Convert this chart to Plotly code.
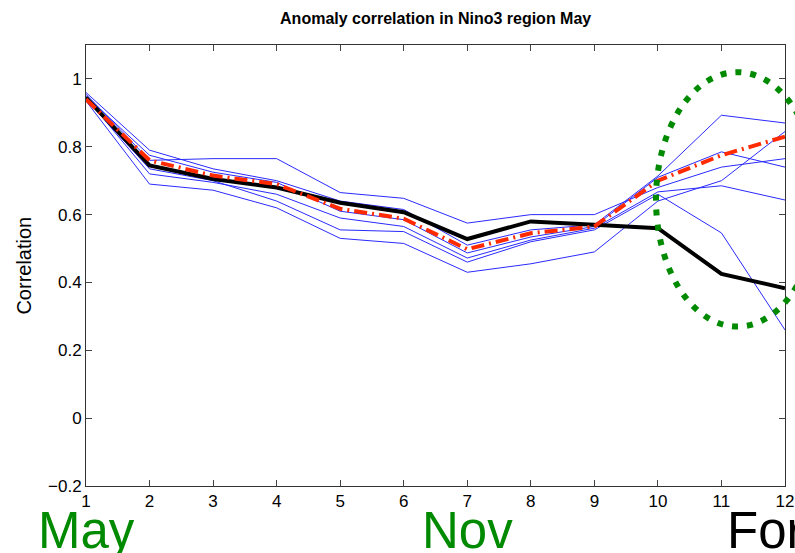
import plotly.graph_objects as go

# ── Data ──────────────────────────────────────────────────────────────────────
lead = list(range(1, 13))

observed = [0.945, 0.745, 0.705, 0.68, 0.635, 0.607, 0.528, 0.58, 0.57, 0.56, 0.425, 0.383]
ens_mean = [0.94, 0.76, 0.715, 0.69, 0.617, 0.588, 0.498, 0.545, 0.565, 0.70, 0.775, 0.83]

member_1 = [0.955, 0.76, 0.765, 0.765, 0.665, 0.648, 0.575, 0.60, 0.60, 0.68, 0.74, 0.765]
member_2 = [0.96, 0.79, 0.735, 0.70, 0.64, 0.615, 0.51, 0.555, 0.57, 0.714, 0.893, 0.87]
member_3 = [0.95, 0.775, 0.725, 0.695, 0.61, 0.585, 0.487, 0.534, 0.565, 0.71, 0.785, 0.74]
member_4 = [0.945, 0.72, 0.695, 0.66, 0.59, 0.565, 0.472, 0.525, 0.56, 0.667, 0.685, 0.643]
member_5 = [0.94, 0.735, 0.70, 0.64, 0.555, 0.55, 0.46, 0.52, 0.555, 0.66, 0.546, 0.26]
member_6 = [0.935, 0.69, 0.672, 0.62, 0.53, 0.515, 0.43, 0.455, 0.49, 0.64, 0.70, 0.845]
members = [member_1, member_2, member_3, member_4, member_5, member_6]

y_ticks = [-0.2, 0, 0.2, 0.4, 0.6, 0.8, 1]
y_labels = ["\u22120.2", "0", "0.2", "0.4", "0.6", "0.8", "1"]

# highlighted region (data units): centre and radii of the dotted ellipse
ellipse_centre = (11.25, 0.645)
ellipse_radii = (1.28, 0.375)

X_RANGE = [1, 12]
Y_RANGE = [-0.2, 1.1]
FONT = "Liberation Sans, Arial, Helvetica, sans-serif"
GREEN = "#008a00"

fig = go.Figure()

for m in members:
    fig.add_trace(go.Scatter(
        x=lead, y=m, mode="lines",
        line=dict(color="#2a2aff", width=1),
        showlegend=False, hoverinfo="skip",
    ))

fig.add_trace(go.Scatter(
    x=lead, y=observed, mode="lines",
    line=dict(color="black", width=4),
    showlegend=False,
))
fig.add_trace(go.Scatter(
    x=lead, y=ens_mean, mode="lines",
    line=dict(color="#ff2a00", width=4, dash="13px,5px,2px,5px"),
    showlegend=False,
))


# ellipse in paper coords so it can spill past the axes like the original
def _px(v):
    return (v - X_RANGE[0]) / (X_RANGE[1] - X_RANGE[0])


def _py(v):
    return (v - Y_RANGE[0]) / (Y_RANGE[1] - Y_RANGE[0])


cx, cy = ellipse_centre
rx, ry = ellipse_radii
fig.add_shape(
    type="circle", xref="paper", yref="paper",
    x0=_px(cx - rx), x1=_px(cx + rx), y0=_py(cy - ry), y1=_py(cy + ry),
    line=dict(color=GREEN, width=6, dash="6px,9px"),
)

# big month labels under the axis
for txt, xp, anchor, col in [("May", 1.0, "center", GREEN),
                             ("Nov", 7.0, "center", GREEN),
                             ("For", 11.05, "left", "black")]:
    fig.add_annotation(
        text=txt, x=_px(xp), y=-0.1, xref="paper", yref="paper",
        xanchor=anchor, yanchor="middle", showarrow=False,
        font=dict(family=FONT, size=51, color=col),
    )

fig.add_annotation(
    text="Correlation", x=-0.09, y=0.5, xref="paper", yref="paper",
    textangle=-90, showarrow=False, xanchor="center", yanchor="middle",
    font=dict(family=FONT, size=20, color="black"),
)

fig.update_layout(
    width=795, height=553,
    title=dict(
        text="<b>Anomaly correlation in Nino3 region May</b>",
        x=0.548, xanchor="center", y=0.967, yanchor="middle",
        font=dict(family=FONT, size=16, color="black"),
    ),
    xaxis=dict(
        range=X_RANGE, tickvals=lead, ticks="inside", ticklen=6,
        showline=True, mirror="ticks", linecolor="#333", showgrid=False,
        zeroline=False, automargin=False,
        tickfont=dict(family=FONT, size=17, color="black"),
    ),
    yaxis=dict(
        range=Y_RANGE, tickvals=y_ticks, ticktext=y_labels, ticks="inside",
        ticklen=6, showline=True, mirror="ticks", linecolor="#333",
        showgrid=False, zeroline=False, automargin=False,
        tickfont=dict(family=FONT, size=17, color="black"),
    ),
    plot_bgcolor="white", paper_bgcolor="white",
    margin=dict(l=86, r=10, t=45, b=67),
    showlegend=False,
)

fig.write_html(
    "out.html",
    config={"displayModeBar": False},
    post_script="document.body.style.margin='0';",
)
